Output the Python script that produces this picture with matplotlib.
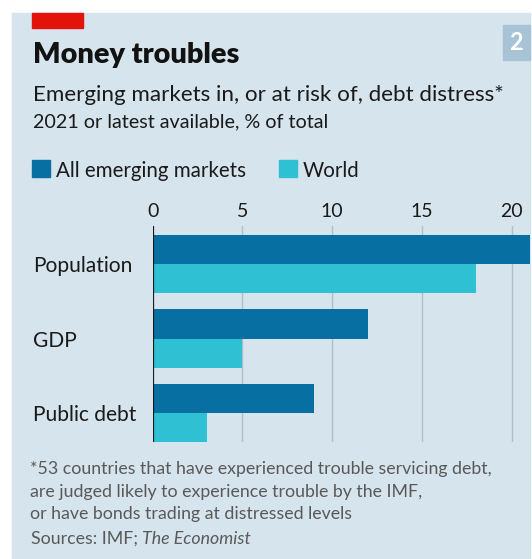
import matplotlib
matplotlib.use("Agg")
import matplotlib.pyplot as plt
from matplotlib.patches import Rectangle
import numpy as np

# data
categories = ["Population", "GDP", "Public debt"]
emerging = [21, 12, 9]
world = [18, 5, 3]
xticks = [0, 5, 10, 15, 20]

W, H = 532, 559
BG = "#d6e4ed"
DARK = "#076fa1"
LIGHT = "#2fc1d3"
FONT = "Lato"

plt.rcParams["font.family"] = [FONT, "DejaVu Sans"]

fig = plt.figure(figsize=(W / 100, H / 100), dpi=100)
fig.patch.set_facecolor("white")

def fx(px):
    return px / W

def fy(py):
    return 1 - py / H

# background panel, red tag and number box
fig.add_artist(Rectangle((fx(12), 0), fx(530 - 12), (H - 13) / H,
                         transform=fig.transFigure, color=BG, zorder=0))
fig.add_artist(Rectangle((fx(31.6), fy(27.8)), fx(51), 14.6 / H,
                         transform=fig.transFigure, color="#e3120b", zorder=1))
fig.add_artist(Rectangle((fx(503), fy(60)), fx(27), 34.6 / H,
                         transform=fig.transFigure, color="#a8c3d6", zorder=1))
fig.text(fx(516.5), fy(43), "2", color="white", fontsize=17, fontweight="bold",
         ha="center", va="center")

# titles
fig.text(fx(33), fy(62.5), "Money troubles", fontsize=20.8, fontweight="heavy",
         color="#121212", va="baseline")
fig.text(fx(33), fy(101), "Emerging markets in, or at risk of, debt distress*",
         fontsize=16.1, color="#1a1a1a", va="baseline")
fig.text(fx(33), fy(127), "2021 or latest available, % of total",
         fontsize=14.2, color="#1a1a1a", va="baseline")

# legend
fig.add_artist(Rectangle((fx(31.6), fy(176.6)), fx(18), 17 / H,
                         transform=fig.transFigure, color=DARK))
fig.text(fx(56), fy(177), "All emerging markets", fontsize=14.8, color="#1a1a1a", va="baseline")
fig.add_artist(Rectangle((fx(279), fy(176.6)), fx(18), 17 / H,
                         transform=fig.transFigure, color=LIGHT))
fig.text(fx(303), fy(177), "World", fontsize=14.8, color="#1a1a1a", va="baseline")

# bars
ax = fig.add_axes([fx(152.7), fy(442), fx(529.6 - 152.7), (442 - 226.5) / H])
ax.set_facecolor("none")
y = np.arange(len(categories))
h = 0.39
ax.barh(y - h / 2, emerging, height=h, color=DARK, zorder=2)
ax.barh(y + h / 2, world, height=h, color=LIGHT, zorder=2)

for t in xticks[1:]:
    ax.axvline(t, color="#b3bfc8", lw=1, zorder=1)
ax.axvline(0, color="#1a1a1a", lw=1.6, zorder=3)

ax.set_xlim(0, 21)
ax.set_ylim(2.39, -0.505)
ax.xaxis.tick_top()
ax.set_xticks(xticks)
ax.set_xticklabels([str(t) for t in xticks])
ax.tick_params(axis="x", length=0, pad=5, labelsize=14, labelcolor="#1a1a1a")
ax.set_yticks(y)
ax.set_yticklabels(categories, ha="left", va="center_baseline")
ax.tick_params(axis="y", length=0, pad=(152.7 - 33) * 0.72, labelsize=15.1, labelcolor="#1a1a1a")
for s in ax.spines.values():
    s.set_visible(False)

# footnote
GREY = "#595959"
notes = ["*53 countries that have experienced trouble servicing debt,",
         "are judged likely to experience trouble by the IMF,",
         "or have bonds trading at distressed levels"]
for i, line in enumerate(notes):
    fig.text(fx(30.5), fy(474 + i * 22.5), line, fontsize=12.75, color=GREY, va="baseline")
src = fig.text(fx(31), fy(543.5), "Sources: IMF; ", fontsize=12.75, color=GREY, va="baseline")
r = fig.canvas.get_renderer()
bb = src.get_window_extent(renderer=r)
fig.text(bb.x1 / W, fy(543.5), "The Economist", fontsize=12.75, color=GREY,
         style="italic", va="baseline")

fig.savefig("out.png", dpi=100)
